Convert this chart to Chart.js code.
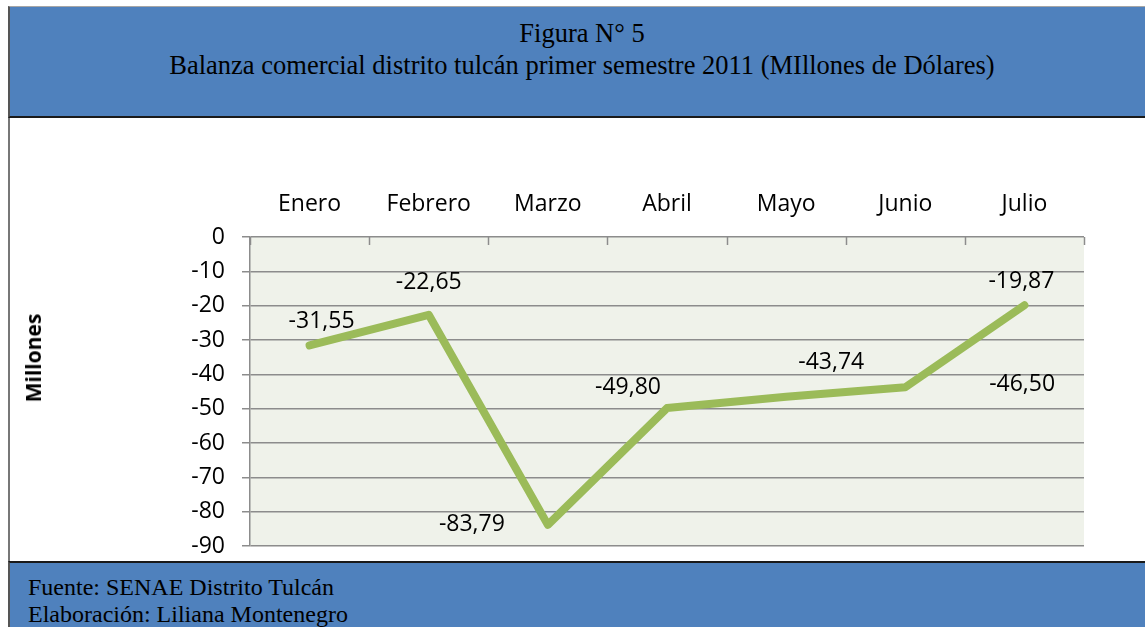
<!DOCTYPE html>
<html>
<head>
<meta charset="utf-8">
<script src="https://cdn.jsdelivr.net/npm/chart.js@4/dist/chart.umd.min.js"></script>
<style>
  html, body { margin: 0; padding: 0; background: #fff; }
  body { width: 1145px; height: 627px; overflow: hidden; position: relative; }
  #head {
    position: absolute; left: 8px; top: 6px; width: 1144px; height: 109px;
    background: #4f81bd; border-top: 1px solid #a6a6a6; border-left: 2px solid #555;
    border-bottom: 2px solid #1a1a1a; box-sizing: content-box;
    font-family: "Liberation Serif", "Times New Roman", serif; font-size: 26.5px;
    color: #000; text-align: center; line-height: 32px;
  }
  #head .t { padding-top: 10px; }
  #mid {
    position: absolute; left: 8px; top: 118px; width: 1137px; height: 443px;
    border-left: 2px solid #777;
  }
  #foot {
    position: absolute; left: 8px; top: 561px; width: 1137px; height: 66px;
    background: #4f81bd; border-top: 2px solid #1a1a1a; border-left: 2px solid #555;
    font-family: "Liberation Serif", "Times New Roman", serif; font-size: 24px;
    color: #000; line-height: 27px;
  }
  #foot .t { padding: 11px 0 0 18px; }
  /* box runs a little past the footer; the canvas is transparent there */
  #chartBox { position: absolute; left: 9px; top: 119px; width: 1136px; height: 458px; }
  #ytitle {
    position: absolute; left: 33px; top: 358px;
    transform: translate(-50%, -50%) rotate(-90deg);
    font-family: "Open Sans", sans-serif; font-weight: bold; font-size: 21px; color: #000;
    white-space: nowrap;
  }
</style>
</head>
<body>
<div id="head"><div class="t">Figura N° 5<br>Balanza comercial distrito tulcán primer semestre 2011 (MIllones de Dólares)</div></div>
<div id="mid"></div>
<div id="foot"><div class="t">Fuente: SENAE Distrito Tulcán<br>Elaboración: Liliana Montenegro</div></div>
<div id="chartBox"><canvas id="myChart"></canvas></div>
<div id="ytitle">Millones</div>
<script>
const months = ['Enero', 'Febrero', 'Marzo', 'Abril', 'Mayo', 'Junio', 'Julio']
const balanza = [-31.55, -22.65, -83.79, -49.80, -46.50, -43.74, -19.87]
const yTicks = [0, -10, -20, -30, -40, -50, -60, -70, -80, -90]

// where each value label sits relative to its point (dragged around in the original)
const labelOffsets = [[12, -24], [0, -32], [-76, 0], [-39, -21], [236, -12], [-74, -25], [-3, -24]]

const gridColor = '#8c8c8c'
const tickFont = { family: 'Open Sans', size: 23 }

const plotBackground = {
  id: 'plotBackground',
  beforeDraw(chart) {
    const { ctx, chartArea } = chart
    ctx.save()
    ctx.fillStyle = '#eff2ea'
    ctx.fillRect(chartArea.left, chartArea.top, chartArea.right - chartArea.left, chartArea.bottom - chartArea.top)
    ctx.restore()
  },
  afterDraw(chart) {
    // short tick marks pointing down from the top axis, between categories
    const { ctx, chartArea } = chart
    const n = months.length
    const step = (chartArea.right - chartArea.left) / n
    ctx.save()
    ctx.strokeStyle = gridColor
    ctx.lineWidth = 1.5
    for (let i = 0; i <= n; i++) {
      const x = Math.round(chartArea.left + i * step) + 0.5
      ctx.beginPath()
      ctx.moveTo(x, chartArea.top)
      ctx.lineTo(x, chartArea.top + 8)
      ctx.stroke()
    }
    ctx.restore()
  }
}

const valueLabels = {
  id: 'valueLabels',
  afterDatasetsDraw(chart) {
    const { ctx } = chart
    const meta = chart.getDatasetMeta(0)
    ctx.save()
    ctx.font = '23px "Open Sans"'
    ctx.fillStyle = '#000'
    ctx.textAlign = 'center'
    ctx.textBaseline = 'middle'
    meta.data.forEach((pt, i) => {
      const txt = balanza[i].toFixed(2).replace('.', ',')
      ctx.fillText(txt, pt.x + labelOffsets[i][0], pt.y + labelOffsets[i][1])
    })
    ctx.restore()
  }
}

const ctx = document.getElementById('myChart').getContext('2d')
const myChart = new Chart(ctx, {
  type: 'line',
  data: {
    labels: months,
    datasets: [{
      label: 'Balanza comercial',
      data: balanza,
      borderColor: '#9bbb59',
      backgroundColor: '#9bbb59',
      borderWidth: 8,
      borderCapStyle: 'round',
      borderJoinStyle: 'round',
      pointRadius: 0,
      tension: 0,
      fill: false
    }]
  },
  options: {
    responsive: true,
    maintainAspectRatio: false,
    animation: false,
    layout: { padding: { left: 0, top: 0, right: 61, bottom: 0 } },
    plugins: {
      legend: { display: false },
      tooltip: { enabled: false }
    },
    scales: {
      x: {
        position: 'top',
        offset: true,
        grid: { display: false, offset: true },
        border: { display: false },
        ticks: { font: tickFont, color: '#000', padding: 11, maxRotation: 0 },
        afterFit(scale) { scale.height = 118 }
      },
      y: {
        min: -90,
        max: 0,
        afterBuildTicks(scale) { scale.ticks = yTicks.map(v => ({ value: v })) },
        grid: { color: gridColor, lineWidth: 1.5, tickLength: 8 },
        border: { display: true, color: gridColor, width: 1.5 },
        ticks: { font: tickFont, color: '#000', padding: 17 },
        afterFit(scale) { scale.width = 241 }
      }
    }
  },
  plugins: [plotBackground, valueLabels]
})
</script>
</body>
</html>
